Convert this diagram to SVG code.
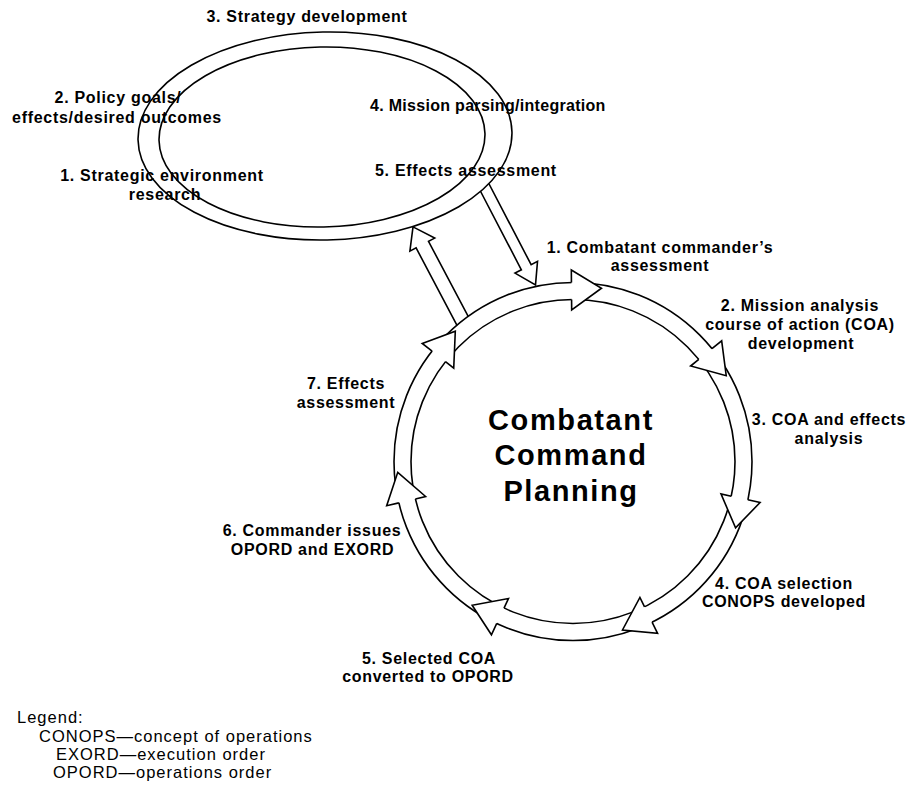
<svg xmlns="http://www.w3.org/2000/svg" width="909" height="786" viewBox="0 0 909 786">
<style>
  .ln { fill: #fff; stroke: #000; stroke-width: 1.6; stroke-linejoin: miter; }
  .lb { font-family: "Liberation Sans", Arial, Helvetica, sans-serif; font-weight: bold; font-size: 16px; letter-spacing: 0.7px; fill: #000; text-anchor: middle; }
  .lbl { font-family: "Liberation Sans", Arial, Helvetica, sans-serif; font-weight: bold; font-size: 16px; letter-spacing: 0.7px; fill: #000; }
  .title { font-family: "Liberation Sans", Arial, Helvetica, sans-serif; font-weight: bold; font-size: 29px; letter-spacing: 1.6px; fill: #000; text-anchor: middle; }
  .lg { font-family: "Liberation Sans", Arial, Helvetica, sans-serif; font-size: 16.5px; letter-spacing: 1px; fill: #000; }
</style>
<defs>
  <path id="ah" class="ln" d="M573,282.5 L573,270 L603,288.5 L573,310 L573,299.5"/>
</defs>
<rect width="909" height="786" fill="#fff"/>

<g id="connectors">
  <path id="up-arrow" class="ln" d="M459.5,330.1 L416.1,247.9 L409.9,251.1 L413,226.9 L434.7,238.1 L428.5,241.3 L471.9,323.5 Z"/>
  <path id="down-arrow" class="ln" d="M477.5,185.5 L521.38,269.8 L515,273.13 L535.5,285 L537.52,261.39 L531.14,264.72 L487.25,180.5 Z"/>
</g>

<g id="strategy-cycle">
  <ellipse class="ln" cx="325" cy="136" rx="187" ry="104" transform="rotate(-1.2 325 136)"/>
  <ellipse class="ln" cx="322" cy="137" rx="163" ry="90" transform="rotate(-1.2 322 137)"/>
  <text class="lb" x="307" y="22">3. Strategy development</text>
  <text class="lb" x="118" y="103">2. Policy goals/</text>
  <text class="lb" x="117" y="123">effects/desired outcomes</text>
  <text class="lb" x="162" y="181">1. Strategic environment</text>
  <text class="lb" x="165" y="200">research</text>
  <text class="lbl" x="370" y="111" style="letter-spacing:0.3px">4. Mission parsing/integration</text>
  <text class="lbl" x="375" y="176">5. Effects assessment</text>
</g>

<g id="planning-cycle">
  <circle class="ln" cx="573" cy="461.5" r="179"/>
  <circle class="ln" cx="573" cy="461.5" r="162"/>
  <use href="#ah" transform="rotate(-0.5 573 461.5)"/>
  <use href="#ah" transform="rotate(50.93 573 461.5)"/>
  <use href="#ah" transform="rotate(102.36 573 461.5)"/>
  <use href="#ah" transform="rotate(153.79 573 461.5)"/>
  <use href="#ah" transform="rotate(205.21 573 461.5)"/>
  <use href="#ah" transform="rotate(256.64 573 461.5)"/>
  <use href="#ah" transform="rotate(308.07 573 461.5)"/>
  <text class="title" x="571" y="430">Combatant</text>
  <text class="title" x="571" y="465">Command</text>
  <text class="title" x="571" y="501">Planning</text>
  <text class="lb" x="660" y="253">1. Combatant commander’s</text>
  <text class="lb" x="660" y="270.5">assessment</text>
  <text class="lb" x="800" y="311">2. Mission analysis</text>
  <text class="lb" x="800" y="330">course of action (COA)</text>
  <text class="lb" x="801" y="348.5">development</text>
  <text class="lb" x="829" y="425">3. COA and effects</text>
  <text class="lb" x="829" y="443.5">analysis</text>
  <text class="lb" x="784" y="588.5">4. COA selection</text>
  <text class="lb" x="784" y="607">CONOPS developed</text>
  <text class="lb" x="429" y="663.5">5. Selected COA</text>
  <text class="lb" x="428" y="682">converted to OPORD</text>
  <text class="lb" x="312" y="536">6. Commander issues</text>
  <text class="lb" x="312.5" y="555">OPORD and EXORD</text>
  <text class="lb" x="346" y="388.5">7. Effects</text>
  <text class="lb" x="346" y="408">assessment</text>
</g>

<g id="legend">
  <text class="lg" x="17" y="722.5">Legend:</text>
  <text class="lg" x="39" y="741.5">CONOPS—concept of operations</text>
  <text class="lg" x="56" y="760">EXORD—execution order</text>
  <text class="lg" x="53" y="777.5">OPORD—operations order</text>
</g>
</svg>
